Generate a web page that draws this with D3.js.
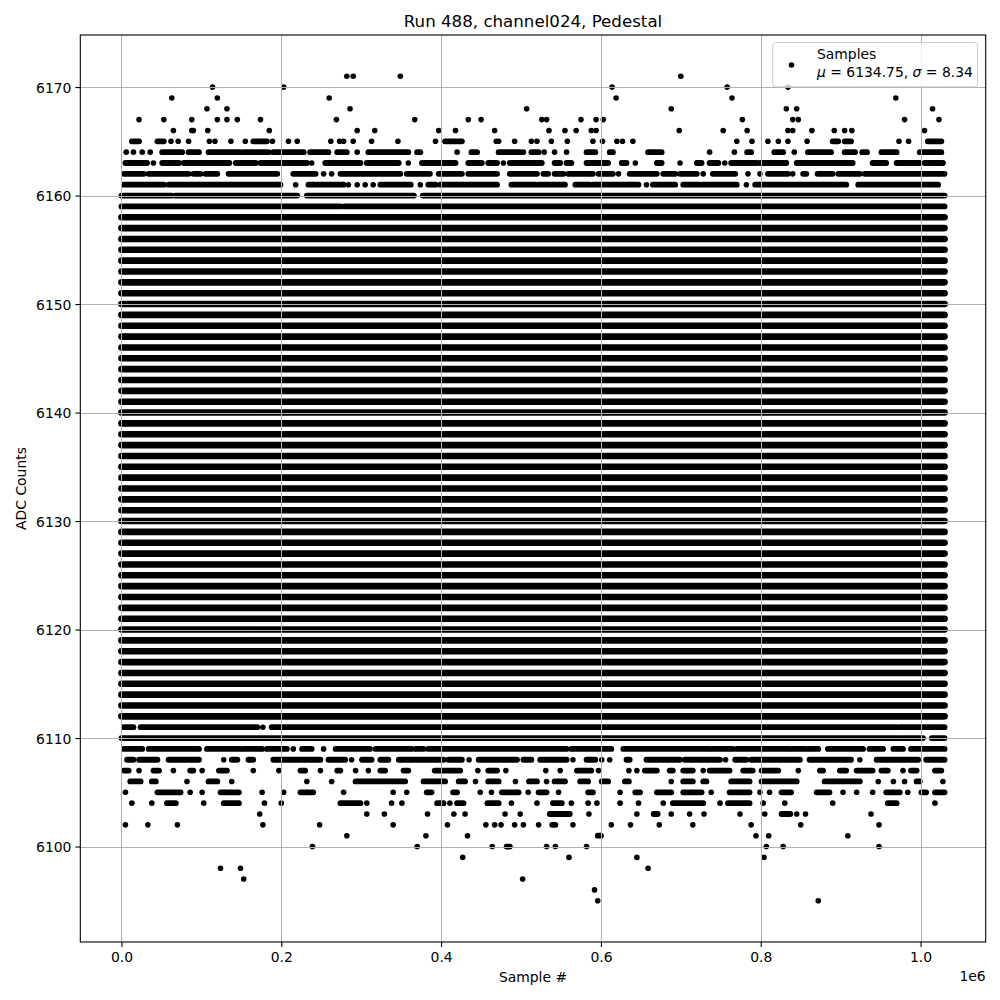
<!DOCTYPE html>
<html><head><meta charset="utf-8">
<script src="https://cdn.jsdelivr.net/npm/d3@7"></script>
<style>
body{margin:0;background:#fff}
text{font-family:"DejaVu Sans",sans-serif;fill:#000}
</style>
</head><body>
<svg id="chart" width="1000" height="1000"></svg>
<script>
// ---------------- data ----------------
const chartTitle = "Run 488, channel024, Pedestal";
const xLabel = "Sample #";
const yLabel = "ADC Counts";
const legendLabel = "Samples";
const meanValue = 6134.75;
const sigmaValue = 8.34;
const nSamples = 1030000;          // last sample index (approx.)
const xTicks = [0, 200000, 400000, 600000, 800000, 1000000];
const xTickLabels = ["0.0", "0.2", "0.4", "0.6", "0.8", "1.0"];
const xOffsetLabel = "1e6";
const yTicks = [6100, 6110, 6120, 6130, 6140, 6150, 6160, 6170];
const yDataMin = 6095, yDataMax = 6171;

// ADC levels hit densely over the whole run (continuous band of samples)
const denseLevels = [6112, 6113, 6114, 6115, 6116, 6117, 6118, 6119, 6120, 6121, 6122, 6123,
  6124, 6125, 6126, 6127, 6128, 6129, 6130, 6131, 6132, 6133, 6134, 6135, 6136, 6137, 6138,
  6139, 6140, 6141, 6142, 6143, 6144, 6145, 6146, 6147, 6148, 6149, 6150, 6151, 6152, 6153,
  6154, 6155, 6156, 6157, 6158];

// Sparser levels: sample positions in thousands; single number = isolated sample,
// [a, b] = run of consecutive hits from a to b (thousands of samples)
const lv6171 = [282, 290, 349, 700];
const lv6170 = [114, 203, 614, 758, 834];
const lv6169 = [63, 120, 260, 619, 764, 969];
const lv6168 = [107, 132, 286, 507, 688, 832, 845, 1015];
const lv6167 = [22, 53, 88, 120, 132, 145, 174, 269, 367, 434, 450, 526, 532, 575, 594, 603, 777, 840, 847, 980, 1023];
const lv6166 = [65, 88, 90, 108, 185, 295, 317, 397, 418, 467, 535, 555, 569, 588, 594, 698, 753, 783, 834, 840, 864, 892, 905, 914, 1005];
const lv6165 = [[13, 22], [45, 53], 62, 71, 84, 110, 117, 137, 155, [165, 182], 189, 209, 220, 262, 273, 278, 290, 313, 346, 393, [405, 426], 469, 472, 492, 513, 520, 538, 558, 590, 602, 620, 627, 640, 770, 789, 809, 822, 834, 858, [890, 897], [905, 913], 973, 985, [1009, 1026]];
const lv6164 = [6, 15, 26, 36, [51, 76], [84, 97], [109, 149], [153, 184], [190, 228], [236, 259], [270, 282], 295, [309, 359], [370, 374], 420, [438, 445], [472, 499], 503, [513, 522], 529, 542, 557, [582, 593], [611, 615], [659, 676], 736, 767, [783, 788], [817, 828], 842, [859, 888], [905, 918], [927, 933], [951, 970], [999, 1026]];
const lv6163 = [[5, 32], 40, [51, 72], [78, 135], [143, 168], [174, 197], [199, 232], 238, [255, 299], [307, 347], 359, [376, 418], [434, 451], [459, 470], 478, [486, 526], [542, 549], [557, 563], [582, 609], [626, 632], 643, [670, 676], 699, [720, 726], [736, 747], 755, [763, 795], [799, 832], [845, 915], [940, 957], [970, 999], [1005, 1028]];
const lv6162 = [[3, 28], [34, 84], [90, 99], [105, 120], [134, 195], [215, 243], 253, 263, [274, 349], [357, 386], [397, 426], [434, 470], [486, 520], [528, 534], [542, 553], [559, 590], [597, 615], 622, [636, 670], [678, 693], [699, 720], 728, [740, 768], 784, 799, [809, 834], 840, [853, 857], [871, 890], [897, 924], [930, 1030]];
const lv6161 = [[3, 53], [59, 199], 218, [234, 278], 284, 295, 305, 315, [324, 362], 374, [384, 393], [399, 470], [488, 518], [522, 555], [568, 586], [590, 647], 657, [665, 693], [703, 724], [728, 770], 782, [793, 907], [922, 1022]];
const lv6160 = [[0, 63], [67, 220], [232, 366], [377, 1030]];
const lv6159 = [[0, 274], [279, 1030]];
const lv6111 = [[3, 15], [24, 170], 177, [188, 970], [974, 1030]];
const lv6110 = [[0, 1003], [1014, 1030]];
const lv6109 = [[3, 26], [34, 97], [107, 149], [153, 176], [182, 207], 215, [226, 238], 253, [268, 311], [318, 363], [368, 378], [384, 557], [563, 613], [628, 736], [740, 765], [770, 836], [840, 857], [861, 872], [884, 928], [936, 953], [966, 978], [988, 1030]];
const lv6108 = [[7, 15], [22, 45], [59, 97], 128, [138, 145], [159, 165], [190, 249], [259, 280], 288, [301, 313], [324, 334], [347, 403], [409, 426], 435, [447, 495], [503, 513], [524, 557], 565, [582, 593], 601, 611, [632, 636], [657, 699], [705, 749], 756, [768, 782], [788, 849], [861, 913], 924, [945, 997], [1007, 1030]];
const lv6107 = [[3, 9], 22, [40, 47], 65, [86, 90], 101, [122, 132], 165, 197, [224, 230], 249, [270, 274], 293, 309, [324, 330], [353, 359], [392, 424], 446, [459, 470], 481, 531, 549, [570, 588], 597, 635, 645, [655, 670], [686, 690], [703, 715], 728, [736, 761], [778, 790], [801, 822], 847, [874, 878], [899, 907], [920, 940], [951, 959], 978, [988, 995], [1018, 1026]];
const lv6106 = [[11, 24], [38, 43], 82, [109, 120], 138, 232, 263, [293, 355], [378, 405], [422, 430], 443, [459, 472], 493, [510, 520], 532, [542, 555], [574, 584], [601, 609], [630, 635], 688, [703, 715], [728, 732], [763, 786], [801, 845], [880, 924], 947, 966, 980, [995, 999], 1028];
const lv6105 = [5, [45, 74], 86, 101, [124, 147], 176, 203, [224, 240], 278, 340, 357, [382, 388], [415, 420], 449, 463, [476, 497], 509, [522, 532], 547, [584, 590], 624, [643, 649], [670, 688], [703, 726], 738, [761, 786], 799, 811, [826, 838], [870, 886], 903, 920, 940, [957, 974], 984, [1001, 1007], [1018, 1030]];
const lv6104 = [13, 38, [57, 68], 103, [128, 147], 179, 200, [274, 299], 307, 338, 351, [395, 403], 411, [420, 428], [458, 472], 488, 520, [540, 551], 563, 584, 595, 624, 647, 678, [690, 728], 749, [759, 786], 803, 830, 890, [959, 970], 1018];
const lv6103 = [173, 307, 329, 383, 416, 430, 480, 499, [536, 561], 585, 645, [666, 671], 688, 711, 729, 774, 805, [826, 837], 845, 856, 938];
const lv6102 = [5, 33, 70, 177, 248, 340, 408, 456, 467, 475, 492, 503, 522, [539, 543], 565, 613, 637, 673, 715, 788, 850, 948];
const lv6101 = [282, 381, 433, [596, 600], 794, 810, 909];
const lv6100 = [239, 370, 464, [482, 486], 532, 543, 582, 807, 828, 948];
const lv6099 = [427, 560, 645, 804];
const lv6098 = [124, 149, 659];
const lv6097 = [153, 502];
const lv6096 = [592];
const lv6095 = [596, 872];

const sparseLevels = [
  [6171, lv6171], [6170, lv6170], [6169, lv6169], [6168, lv6168], [6167, lv6167],
  [6166, lv6166], [6165, lv6165], [6164, lv6164], [6163, lv6163], [6162, lv6162],
  [6161, lv6161], [6160, lv6160], [6159, lv6159], [6111, lv6111], [6110, lv6110],
  [6109, lv6109], [6108, lv6108], [6107, lv6107], [6106, lv6106], [6105, lv6105],
  [6104, lv6104], [6103, lv6103], [6102, lv6102], [6101, lv6101], [6100, lv6100],
  [6099, lv6099], [6098, lv6098], [6097, lv6097], [6096, lv6096], [6095, lv6095]
];

// ---------------- layout ----------------
const L = 80.3, R = 985.7, T = 35, B = 942;
const svg = d3.select("#chart");

const xm = 0.05 * nSamples;
const x = d3.scaleLinear().domain([-xm, nSamples + xm]).range([L, R]);
const ym = 0.05 * (yDataMax - yDataMin);
const y = d3.scaleLinear().domain([yDataMin - ym, yDataMax + ym]).range([B, T]);

svg.append("defs").append("clipPath").attr("id", "clip")
  .append("rect").attr("x", L).attr("y", T).attr("width", R - L).attr("height", B - T);

const pts = svg.append("g").attr("clip-path", "url(#clip)");

// dense bands
const denseSegs = denseLevels.map(lv => ({lv, a: 0, b: nSamples}));
pts.selectAll("line.dense").data(denseSegs).join("line")
  .attr("class", "dense")
  .attr("x1", d => x(d.a)).attr("x2", d => x(d.b))
  .attr("y1", d => y(d.lv)).attr("y2", d => y(d.lv))
  .attr("stroke", "#000").attr("stroke-width", 6.6).attr("stroke-linecap", "round");

// sparse levels
const runs = [], singles = [];
sparseLevels.forEach(([lv, arr]) => {
  arr.forEach(v => {
    if (Array.isArray(v)) runs.push({lv, a: v[0] * 1000, b: v[1] * 1000});
    else singles.push({lv, a: v * 1000});
  });
});
pts.selectAll("line.run").data(runs).join("line")
  .attr("class", "run")
  .attr("x1", d => x(d.a)).attr("x2", d => x(d.b))
  .attr("y1", d => y(d.lv)).attr("y2", d => y(d.lv))
  .attr("stroke", "#000").attr("stroke-width", 5.8).attr("stroke-linecap", "round");
pts.selectAll("circle.single").data(singles).join("circle")
  .attr("class", "single")
  .attr("cx", d => x(d.a)).attr("cy", d => y(d.lv)).attr("r", 2.8)
  .attr("fill", "#000");

// grid (drawn above the points, as in the reference)
const grid = svg.append("g");
grid.selectAll("line.gx").data(xTicks).join("line")
  .attr("x1", d => Math.round(x(d)) + 0.5).attr("x2", d => Math.round(x(d)) + 0.5)
  .attr("y1", T).attr("y2", B)
  .attr("stroke", "#b0b0b0").attr("stroke-width", 1);
grid.selectAll("line.gy").data(yTicks).join("line")
  .attr("y1", d => Math.round(y(d)) + 0.5).attr("y2", d => Math.round(y(d)) + 0.5)
  .attr("x1", L).attr("x2", R)
  .attr("stroke", "#b0b0b0").attr("stroke-width", 1);

// axes
const xAxis = d3.axisBottom(x).tickValues(xTicks)
  .tickFormat((d, i) => xTickLabels[i]).tickSize(4.9).tickPadding(4);
const gx = svg.append("g").attr("transform", `translate(0,${B})`).call(xAxis);
const yAxis = d3.axisLeft(y).tickValues(yTicks).tickFormat(d3.format("d")).tickSize(4.9).tickPadding(4);
const gy = svg.append("g").attr("transform", `translate(${L},0)`).call(yAxis);
[gx, gy].forEach(g => {
  g.select(".domain").remove();
  g.selectAll(".tick line").attr("stroke", "#000").attr("stroke-width", 1.1);
  g.selectAll(".tick text").attr("font-family", "DejaVu Sans").attr("font-size", 13.9).attr("fill", "#000");
});
gx.selectAll(".tick text").attr("dy", null).attr("y", 20);
gy.selectAll(".tick text").attr("dy", "0.36em");

// spines
svg.append("rect").attr("x", L).attr("y", T).attr("width", R - L).attr("height", B - T)
  .attr("fill", "none").attr("stroke", "#000").attr("stroke-width", 1.1);

// offset text
svg.append("text").attr("x", R).attr("y", 981).attr("text-anchor", "end")
  .attr("font-size", 13.9).text(xOffsetLabel);

// labels
svg.append("text").attr("x", (L + R) / 2).attr("y", 982).attr("text-anchor", "middle")
  .attr("font-size", 13.9).text(xLabel);
svg.append("text").attr("transform", `translate(26,${(T + B) / 2}) rotate(-90)`)
  .attr("text-anchor", "middle").attr("font-size", 13.9).text(yLabel);
svg.append("text").attr("x", (L + R) / 2).attr("y", 27).attr("text-anchor", "middle")
  .attr("font-size", 16.67).text(chartTitle);

// legend
const lg = svg.append("g");
lg.append("rect").attr("x", 772.7).attr("y", 42.5).attr("width", 204.8).attr("height", 44.3)
  .attr("rx", 2.8).attr("fill", "#fff").attr("fill-opacity", 0.8)
  .attr("stroke", "#cccccc").attr("stroke-width", 1);
lg.append("circle").attr("cx", 791.5).attr("cy", 65).attr("r", 2.8).attr("fill", "#000");
lg.append("text").attr("x", 817).attr("y", 58.5).attr("font-size", 13.9).text(legendLabel);
const t2 = lg.append("text").attr("x", 817).attr("y", 77).attr("font-size", 13.9);
t2.append("tspan").attr("font-style", "italic").text("μ");
t2.append("tspan").text(" = " + meanValue.toFixed(2) + ", ");
t2.append("tspan").attr("font-style", "italic").text("σ");
t2.append("tspan").text(" = " + sigmaValue.toFixed(2));
</script>
</body></html>
